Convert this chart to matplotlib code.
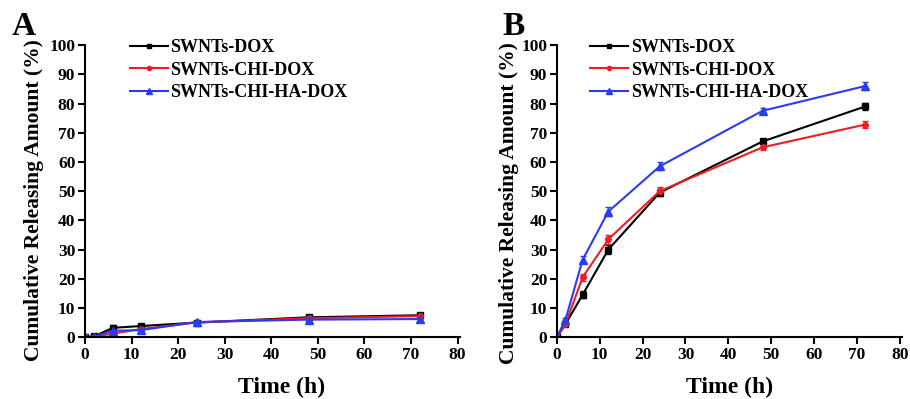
import matplotlib
matplotlib.use("Agg")
import matplotlib.pyplot as plt
from matplotlib.lines import Line2D

plt.rcParams['font.family'] = ['Liberation Serif', 'DejaVu Serif']
plt.rcParams['font.weight'] = 'bold'

time_h = [0, 2, 6, 12, 24, 48, 72]
labels = ['SWNTs-DOX', 'SWNTs-CHI-DOX', 'SWNTs-CHI-HA-DOX']

# panel A
a_dox = [0, 0.3, 3.2, 3.8, 5.0, 6.8, 7.5]
a_chi = [0, 0.2, 1.2, 2.8, 5.0, 6.5, 7.2]
a_ha = [0, 0.2, 2.2, 2.4, 5.2, 6.0, 6.2]
a_err = [0, 0.3, 0.8, 0.8, 0.6, 0.9, 0.9]

# panel B
b_dox = [0, 4.5, 14.5, 30.0, 49.5, 67.0, 79.0]
b_chi = [0, 4.5, 20.5, 33.5, 50.0, 65.0, 72.8]
b_ha = [0, 6.0, 26.5, 43.0, 58.5, 77.5, 86.0]
b_err = [0, 0.6, 1.2, 1.5, 1.3, 1.0, 1.3]

colors = ['black', '#ee1c25', '#2a3cf0']
markers = ['s', 'o', '^']
msizes = [4, 4, 6]

fig = plt.figure(figsize=(9.1, 3.99), dpi=100)
axA = fig.add_axes([0.0934, 0.155, 0.412, 0.732])
axB = fig.add_axes([0.612, 0.155, 0.379, 0.732])


def draw(ax, series, err, legx, ylx, yly, xlx):
    for ys, c, m, ms in zip(series, colors, markers, msizes):
        ax.errorbar(time_h, ys, yerr=err, color=c, marker=m, markersize=ms,
                    linewidth=1.5, elinewidth=1, capsize=2)
    ax.set_xlim(0, 80.5)
    ax.set_ylim(0, 100)
    ax.set_xticks(range(0, 81, 10))
    ax.set_yticks(range(0, 101, 10))
    for s in ['top', 'right']:
        ax.spines[s].set_visible(False)
    for s in ['left', 'bottom']:
        ax.spines[s].set_linewidth(1.5)
    ax.tick_params(direction='out', length=5, width=1.5, labelsize=12.5, pad=2)
    for t in ax.get_xticklabels() + ax.get_yticklabels():
        t.set_fontweight('bold')
    ax.set_xlabel('Time (h)', fontsize=17, fontweight='bold')
    ax.xaxis.set_label_coords(xlx, -0.135)
    ax.set_ylabel('Cumulative Releasing Amount (%)', fontsize=15.5, fontweight='bold')
    ax.yaxis.set_label_coords(ylx, yly)
    handles = [Line2D([], [], color=c, marker=m, markersize=ms - 1, linewidth=1.5)
               for c, m, ms in zip(colors, markers, msizes)]
    ax.legend(handles, labels, loc='upper left', bbox_to_anchor=(legx, 1.045),
              frameon=False, fontsize=13, handlelength=2.1, handletextpad=0.15,
              labelspacing=0.3, borderaxespad=0)


draw(axA, [a_dox, a_chi, a_ha], a_err, 0.10, -0.11, 0.47, 0.523)
draw(axB, [b_dox, b_chi, b_ha], b_err, 0.075, -0.11, 0.46, 0.50)

fig.text(12 / 910, 1 - 11 / 399, 'A', fontsize=24, fontweight='bold', ha='left', va='top')
fig.text(502 / 910, 1 - 11 / 399, 'B', fontsize=24, fontweight='bold', ha='left', va='top')

fig.savefig('out.png', dpi=100)
